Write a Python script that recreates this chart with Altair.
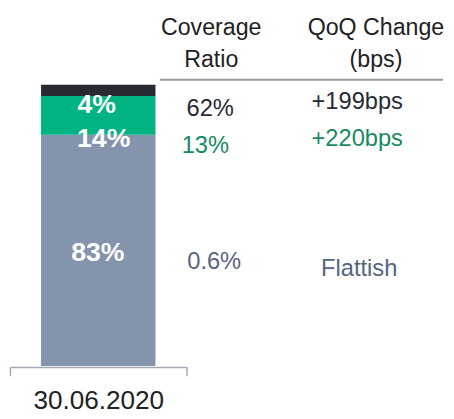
import altair as alt
import pandas as pd

# ---- data ----
period = ["30.06.2020"]
segments = ["Stage 1", "Stage 2", "Stage 3"]
seg_values = [83, 14, 4]
seg_labels = ["83%", "14%", "4%"]
seg_colors = ["#8494ac", "#00b383", "#262b33"]

header_cols = ["Coverage\nRatio", "QoQ Change\n(bps)"]
coverage = ["0.6%", "13%", "62%"]
qoq = ["Flattish", "+220bps", "+199bps"]
row_colors = ["#56657f", "#178a62", "#262b35"]

FONT = "Liberation Sans, Arial, sans-serif"

bars = pd.DataFrame({
    "period": period * len(segments),
    "segment": segments,
    "value": seg_values,
    "label": seg_labels,
    "order": [1, 2, 3],
})

x_enc = alt.X("period:N",
              scale=alt.Scale(range=[2, 181], paddingInner=0, paddingOuter=0),
              axis=alt.Axis(title=None, labelAngle=0, labelFontSize=26.5, labelFont=FONT,
                            labelColor="#222222", labelPadding=12, domainColor="#a3aab6",
                            domainWidth=1.5, tickColor="#a3aab6", tickWidth=1.5, tickSize=9,
                            tickBand="extent"))
y_scale = alt.Scale(domain=[0, 101], range=[360, 75])

bar = alt.Chart(bars).mark_bar(width=alt.RelativeBandSize(0.648)).encode(
    x=x_enc,
    y=alt.Y("value:Q", stack="zero", scale=y_scale, axis=None),
    order=alt.Order("order:Q"),
    color=alt.Color("segment:N", scale=alt.Scale(domain=segments, range=seg_colors), legend=None),
)

# bar labels (white bold)
lab_pos = {"83%": (91, 254), "14%": (97, 138), "4%": (90, 104)}
label_layers = []
for lab in seg_labels:
    px, py = lab_pos[lab]
    label_layers.append(
        alt.Chart(pd.DataFrame({"t": [lab]})).mark_text(
            font=FONT, fontSize=27, fontWeight="bold", color="white", align="center", baseline="alphabetic"
        ).encode(text="t:N", x=alt.value(px), y=alt.value(py))
    )

# header
hdr_layers = []
hdr_x = [206, 373]
for h, hx in zip(header_cols, hdr_x):
    lines = h.split("\n")
    hdr_layers.append(
        alt.Chart(pd.DataFrame({"t": [lines]})).mark_text(
            font=FONT, fontSize=23.5, color="#222222", align="center", baseline="alphabetic",
            lineHeight=32
        ).encode(text="t", x=alt.value(hx), y=alt.value(25))
    )

rule = alt.Chart(pd.DataFrame({"a": [0]})).mark_rule(color="#9a9a9a", strokeWidth=2).encode(
    x=alt.value(154), x2=alt.value(441), y=alt.value(70)
)

# table rows
cov_pos = [(209, 262), (200, 144), (205, 107)]
qoq_pos = [(356, 269), (354, 137), (354, 100)]
row_layers = []
for i in range(len(coverage)):
    for txt, (px, py) in ((coverage[i], cov_pos[i]), (qoq[i], qoq_pos[i])):
        row_layers.append(
            alt.Chart(pd.DataFrame({"t": [txt]})).mark_text(
                font=FONT, fontSize=24, color=row_colors[i], align="center", baseline="alphabetic"
            ).encode(text="t:N", x=alt.value(px), y=alt.value(py))
        )

chart = alt.layer(bar, *label_layers, *hdr_layers, rule, *row_layers).properties(
    width=444, height=361,
    autosize=alt.AutoSizeParams(type="none"),
    padding={"left": 0, "top": 0, "right": 0, "bottom": 50},
).configure_view(stroke=None).configure_axis(grid=False)

chart.save("out.html", embed_options={"renderer": "svg", "actions": False})
